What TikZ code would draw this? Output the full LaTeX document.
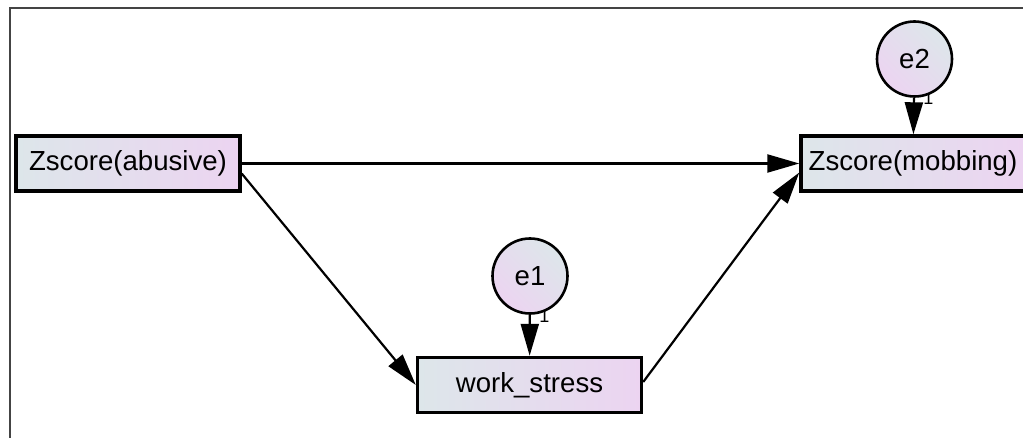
\documentclass[tikz,border=0pt]{standalone}
\usepackage{fontspec}
\setmainfont{Liberation Sans}
\usetikzlibrary{arrows.meta}

\definecolor{shadeL}{HTML}{DDE6EA}
\definecolor{shadeR}{HTML}{ECD4F1}
\definecolor{framegray}{HTML}{444444}

\begin{document}
\begin{tikzpicture}[x=0.5pt, y=-0.5pt,
        font=\fontsize{13.8}{16}\selectfont,
        obs/.style={draw, line width=1.7pt, left color=shadeL, right color=shadeR,
            minimum width=112pt, minimum height=27.5pt, inner sep=0pt},
        err/.style={draw, circle, line width=1.3pt, left color=shadeL, right color=shadeR,
            shading angle=-45, minimum size=37.5pt, inner sep=0pt},
        path/.style={line width=1.1pt, -{Triangle[length=16pt, width=9pt]}},
        fix/.style={font=\fontsize{9}{9}\selectfont, inner sep=0pt}]
    \useasboundingbox (0,0) rectangle (1023,438);
    \draw[framegray, line width=1pt] (9.5,438) |- (1023,8);

    % weight labels (partly under the circles)
    \node[fix, anchor=north west] (w2) at (923,92) {1};
    \node[fix, anchor=north west] (w1) at (539,310) {1};

    % observed variables
    \node[obs] (abusive) at (128,163.5) {Zscore(abusive)};
    \node[obs] (mobbing) at (913,163.5) {Zscore(mobbing)};
    \node[obs] (stress) at (529.5,385) {work\_stress};

    % error terms
    \node[err] (e1) at (530,276) {e1};
    \node[err] (e2) at (914.5,59) {e2};

    \draw[path] (abusive.east) -- (mobbing.west);
    \draw[path] ([yshift=-5pt]abusive.east) -- (stress.west);
    \draw[path] ([yshift=1.5pt]stress.east) -- ([yshift=-4.5pt]mobbing.west);
    \draw[path] (e1) -- (stress);
    \draw[path] (e2) -- (mobbing);
\end{tikzpicture}
\end{document}
